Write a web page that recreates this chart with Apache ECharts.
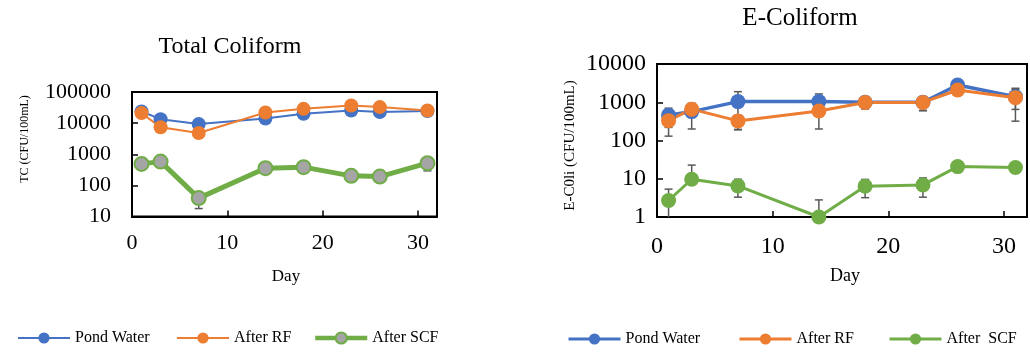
<!DOCTYPE html>
<html><head><meta charset="utf-8">
<script src="https://cdn.jsdelivr.net/npm/echarts@6/dist/echarts.min.js"></script>
<style>html,body{margin:0;padding:0;background:#fff}#c{width:1030px;height:354px}</style>
</head><body><div id="c"></div>
<script>
// ---- data ----
const days = [1, 3, 7, 14, 18, 23, 26, 31];
const namesLeft = ['Pond Water', 'After RF', 'After SCF'];
const namesRight = ['Pond Water ', 'After RF ', 'After  SCF'];
const xTicks = [0, 10, 20, 30];
const tcTicks = [10, 100, 1000, 10000, 100000];
const ecTicks = [1, 10, 100, 1000, 10000];

const tcPond = [23600, 13400, 9300, 14000, 19900, 25400, 22600, 24300];
const tcRF   = [21000, 7400, 4800, 21900, 28800, 36800, 32700, 25400];
const tcSCF  = [490, 580, 39, 357, 385, 202, 192, 518];
const tcPondErr = [2000, 1500, 1000, 2500, 2000, 3000, 2500, 2000];
const tcRFErr   = [2000, 1000, 800, 3000, 3000, 4000, 3000, 2500];
const tcSCFErr  = [60, 80, 21, 60, 140, 30, 30, 225];

const ecPond = [460, 570, 1040, 1040, 1000, 1000, 2830, 1400];
const ecRF   = [330, 660, 325, 590, 990, 990, 2090, 1320];
const ecSCF  = [2.7, 9.7, 6.5, 1.0, 6.4, 6.9, 20.8, 19.6];
const ecPondErr = [240, 370, 850, 610, 330, 400, 300, 750];
const ecRFErr   = [200, 100, 130, 390, 300, 380, 200, 1000];
const ecSCFErr  = [2.65, 13, 3.2, 1.8, 3.2, 3.6, 0, 0];

// ---- styling ----
const FONT = "'Liberation Serif', 'Times New Roman', serif";
const BLUE = '#4472C4', ORANGE = '#ED7D31', GREEN = '#70AD47', GRAY = '#A5A5A5';

function lineSeries(name, vals, gi, color, width, size, fill, border) {
  return {
    type: 'line', name: name, xAxisIndex: gi, yAxisIndex: gi,
    data: days.map((d, i) => [d, vals[i]]),
    symbol: 'circle', symbolSize: size, clip: false, z: 3,
    lineStyle: { color: color, width: width },
    itemStyle: { color: fill || color, borderColor: border || color, borderWidth: border ? 2 : 0 },
    emphasis: { disabled: true }
  };
}
function errSeries(vals, errs, gi, yMin) {
  return {
    type: 'custom', xAxisIndex: gi, yAxisIndex: gi, z: 1, silent: true, clip: false,
    data: days.map((d, i) => [d, vals[i], errs[i]]),
    encode: { x: 0, y: 1 },
    renderItem: function (params, api) {
      const x = api.value(0), v = api.value(1), e = api.value(2);
      if (!e) return null;
      const st = { stroke: '#595959', lineWidth: 1.5 };
      const c = api.coord([x, v]);
      const hi = api.coord([x, v + e]);
      const ch = [
        { type: 'line', shape: { x1: c[0], y1: c[1], x2: hi[0], y2: hi[1] }, style: st },
        { type: 'line', shape: { x1: hi[0] - 4, y1: hi[1], x2: hi[0] + 4, y2: hi[1] }, style: st }
      ];
      const lo = v - e;
      if (lo > 0) {
        const l = api.coord([x, Math.max(lo, yMin)]);
        ch.push({ type: 'line', shape: { x1: c[0], y1: c[1], x2: l[0], y2: l[1] }, style: st });
        if (lo >= yMin) ch.push({ type: 'line', shape: { x1: l[0] - 4, y1: l[1], x2: l[0] + 4, y2: l[1] }, style: st });
      }
      return { type: 'group', children: ch };
    }
  };
}
function xAxisOf(gi, fs, margin) {
  return {
    gridIndex: gi, type: 'value', min: 0, max: 32, interval: 10,
    axisLine: { show: true, lineStyle: { color: '#000', width: 2 } },
    axisTick: { show: true, inside: true, length: 6, lineStyle: { color: '#000', width: 1.5 } },
    axisLabel: { formatter: v => xTicks.includes(v) ? String(v) : '', fontFamily: FONT, fontSize: fs, color: '#000', margin: margin },
    splitLine: { show: false }
  };
}
function yAxisOf(gi, min, max, ticks, fs, margin) {
  return {
    gridIndex: gi, type: 'log', logBase: 10, min: min, max: max,
    axisLine: { show: true, lineStyle: { color: '#000', width: 2 } },
    axisTick: { show: true, inside: true, length: 6, lineStyle: { color: '#000', width: 1.5 } },
    axisLabel: { formatter: v => { const r = Math.round(v); return ticks.includes(r) ? String(r) : ''; }, fontFamily: FONT, fontSize: fs, color: '#000', margin: margin },
    splitLine: { show: false }, minorTick: { show: false }
  };
}
function legendOf(name, left, top, lw) {
  return {
    data: [name], left: left, top: top, padding: 0, itemWidth: 52, itemHeight: 14,
    lineStyle: { width: lw }, selectedMode: false,
    textStyle: { fontFamily: FONT, fontSize: 16, color: '#000' }
  };
}
function txt(s, x, y, fs, rot) {
  return { type: 'text', x: x, y: y, rotation: rot || 0, silent: true,
    style: { text: s, font: fs + 'px ' + FONT, fill: '#000', align: 'center', verticalAlign: 'middle' } };
}

const option = {
  animation: false,
  backgroundColor: '#fff',
  grid: [
    { left: 132, top: 92, width: 305, height: 124.5, show: true, borderColor: '#000', borderWidth: 2, backgroundColor: 'transparent' },
    { left: 657, top: 64, width: 375, height: 153, show: true, borderColor: '#000', borderWidth: 2, backgroundColor: 'transparent' }
  ],
  xAxis: [xAxisOf(0, 22, 16), xAxisOf(1, 24, 18)],
  yAxis: [yAxisOf(0, 10, 100000, tcTicks, 22, 21), yAxisOf(1, 1, 10000, ecTicks, 24, 11)],
  legend: [
    legendOf(namesLeft[0], 17, 330, 2),
    legendOf(namesLeft[1], 176, 330, 2),
    legendOf(namesLeft[2], 313, 330, 4.5),
    legendOf(namesRight[0], 567, 331, 3),
    legendOf(namesRight[1], 738, 331, 3),
    legendOf(namesRight[2], 888, 331, 3)
  ],
  graphic: [
    txt('Total Coliform', 230, 47, 24),
    txt('E-Coliform', 800, 18, 25),
    txt('Day', 286, 276.5, 17),
    txt('Day', 845, 276.5, 18),
    txt('TC (CFU/100mL)', 25, 139, 12, Math.PI / 2),
    txt('E-C0li (CFU/100mL)', 570, 145.5, 15, Math.PI / 2)
  ],
  series: [
    errSeries(tcPond, tcPondErr, 0, 10),
    errSeries(tcRF, tcRFErr, 0, 10),
    errSeries(tcSCF, tcSCFErr, 0, 10),
    errSeries(ecPond, ecPondErr, 1, 1),
    errSeries(ecRF, ecRFErr, 1, 1),
    errSeries(ecSCF, ecSCFErr, 1, 1),
    lineSeries(namesLeft[0], tcPond, 0, BLUE, 2, 14),
    lineSeries(namesLeft[1], tcRF, 0, ORANGE, 2, 14),
    lineSeries(namesLeft[2], tcSCF, 0, GREEN, 5, 14, GRAY, GREEN),
    lineSeries(namesRight[0], ecPond, 1, BLUE, 3.5, 15),
    lineSeries(namesRight[1], ecRF, 1, ORANGE, 3, 15),
    lineSeries(namesRight[2], ecSCF, 1, GREEN, 3, 15)
  ]
};
const chart = echarts.init(document.getElementById('c'), null, { renderer: 'canvas' });
chart.setOption(option);
</script>
</body></html>
